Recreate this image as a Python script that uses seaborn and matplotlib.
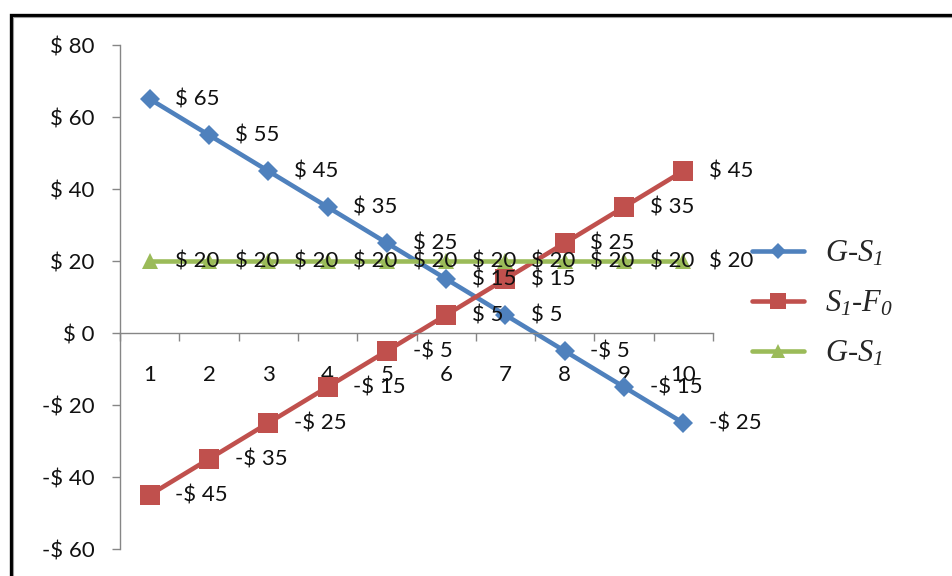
import matplotlib
matplotlib.use("Agg")
import matplotlib.pyplot as plt
from matplotlib.patches import Rectangle
from matplotlib.lines import Line2D
import seaborn as sns

# ---- data -------------------------------------------------------------
periods = [1, 2, 3, 4, 5, 6, 7, 8, 9, 10]
g_minus_s1 = [65, 55, 45, 35, 25, 15, 5, -5, -15, -25]
s1_minus_f0 = [-45, -35, -25, -15, -5, 5, 15, 25, 35, 45]
g_minus_s1_flat = [20, 20, 20, 20, 20, 20, 20, 20, 20, 20]
y_ticks = [-60, -40, -20, 0, 20, 40, 60, 80]

series_labels = [r"$G$-$S_1$", r"$S_1$-$F_0$", r"$G$-$S_1$"]
series_colors = ["#4F81BD", "#C0504D", "#9BBB59"]
series_markers = ["D", "s", "^"]
series_msize = [10, 14, 12]


def money(v):
    return f"$ {v}" if v >= 0 else f"-$ {abs(v)}"


sns.set_style("white")
plt.rcParams["font.family"] = ["Lato", "DejaVu Sans"]
plt.rcParams["mathtext.fontset"] = "custom"
plt.rcParams["mathtext.it"] = "Liberation Serif:italic"
plt.rcParams["mathtext.rm"] = "Liberation Serif:italic"

fig = plt.figure(figsize=(9.52, 5.76), dpi=100)
ax = fig.add_axes([120 / 952, 27 / 576, 593 / 952, 504 / 576])

all_series = [g_minus_s1, s1_minus_f0, g_minus_s1_flat]
for vals, col, mk, ms in zip(all_series, series_colors, series_markers, series_msize):
    sns.lineplot(x=periods, y=vals, ax=ax, color=col, marker=mk, markersize=ms,
                 markeredgewidth=0, linewidth=3.3, legend=False)

for vals in all_series:
    for x, v in zip(periods, vals):
        ax.annotate(money(v), (x, v), xytext=(18.5, 0), textcoords="offset points",
                    ha="left", va="center", fontsize=16, color="#111111", zorder=10)

# axes ---------------------------------------------------------------
ax.set_xlim(0.5, 10.5)
ax.set_ylim(-60, 80)
ax.set_yticks(y_ticks)
ax.set_yticklabels([money(v) for v in y_ticks])

ax.set_xticks([p - 0.5 for p in periods] + [periods[-1] + 0.5])
ax.set_xticklabels([])
ax.set_xticks(periods, minor=True)
ax.set_xticklabels([str(p) for p in periods], minor=True)

axis_grey = "#868686"
for side in ["top", "right"]:
    ax.spines[side].set_visible(False)
ax.spines["left"].set_color(axis_grey)
ax.spines["bottom"].set_color(axis_grey)
ax.spines["left"].set_linewidth(1.0)
ax.spines["bottom"].set_linewidth(1.0)
ax.spines["bottom"].set_position(("data", 0))

ax.tick_params(axis="y", which="major", direction="out", length=5.5, width=1.0,
               color=axis_grey, pad=13, labelsize=16, labelcolor="#111111", left=True)
ax.tick_params(axis="x", which="major", direction="out", length=6, width=1.0,
               color=axis_grey, bottom=True)
ax.tick_params(axis="x", which="minor", length=0, pad=23, labelsize=16,
               labelcolor="#111111", bottom=True)
ax.grid(False)

# legend -------------------------------------------------------------
handles = [Line2D([], [], color=c, marker=m, markersize=s * 0.85, markeredgewidth=0,
                  linewidth=3.3) for c, m, s in zip(series_colors, series_markers, series_msize)]
leg = ax.legend(handles, series_labels, loc="upper left",
                bbox_to_anchor=(724 / 952, 1 - 212 / 576), bbox_transform=fig.transFigure,
                frameon=False, handlelength=1.73, handletextpad=0.69, labelspacing=0.66,
                prop={"family": "Liberation Serif", "style": "italic", "size": 22})

# outer chart frame --------------------------------------------------
fig.add_artist(Rectangle((10.5 / 952, -0.1), 1.2, 1.1 - 15 / 576,
                         transform=fig.transFigure, fill=False, lw=2.4, ec="black"))
fig.add_artist(Rectangle((12.5 / 952, -0.1), 1.2, 1.1 - 17 / 576,
                         transform=fig.transFigure, fill=False, lw=0.8, ec="#9a9a9a"))

fig.savefig("out.png", dpi=100)
